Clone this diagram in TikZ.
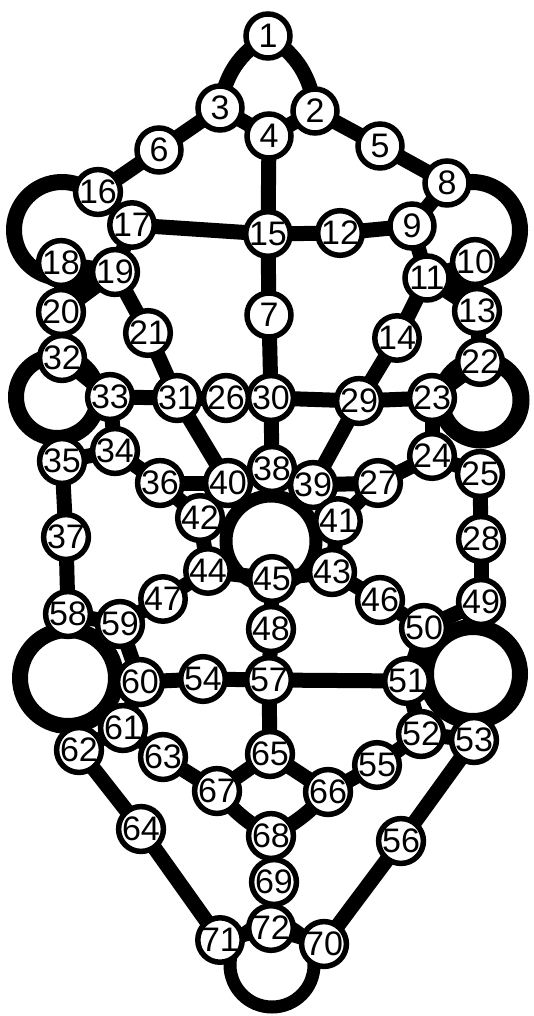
\documentclass[tikz,border=0pt]{standalone}
\usepackage{fontspec}
\setmainfont{Liberation Sans}
\usetikzlibrary{backgrounds}
\begin{document}
\begin{tikzpicture}[x=1pt,y=1pt,
  nd/.style={circle,draw=black,line width=5.5pt,fill=white,minimum size=44pt,inner sep=0pt,font=\fontsize{34}{34}\selectfont},
  edge/.style={line width=15pt,line cap=round},
  ring/.style={line width=16pt}]
\useasboundingbox (0,0) rectangle (534,-1016);
% nodes
\node[nd] (n1) at (268,-36) {1};
\node[nd] (n2) at (315,-111) {2};
\node[nd] (n3) at (220,-108) {3};
\node[nd] (n4) at (269,-136) {4};
\node[nd] (n5) at (380,-146) {5};
\node[nd] (n6) at (159,-150) {6};
\node[nd] (n7) at (269,-315) {7};
\node[nd] (n8) at (447,-183) {8};
\node[nd] (n9) at (412,-226) {9};
\node[nd] (n10) at (475,-262) {10};
\node[nd] (n11) at (427,-278) {11};
\node[nd] (n12) at (340,-233) {12};
\node[nd] (n13) at (477,-311) {13};
\node[nd] (n14) at (397,-338) {14};
\node[nd] (n15) at (268,-234) {15};
\node[nd] (n16) at (98,-192) {16};
\node[nd] (n17) at (132,-225) {17};
\node[nd] (n18) at (61,-263) {18};
\node[nd] (n19) at (115,-272) {19};
\node[nd] (n20) at (61,-312) {20};
\node[nd] (n21) at (148,-333) {21};
\node[nd] (n22) at (480,-362) {22};
\node[nd] (n23) at (432,-398) {23};
\node[nd] (n24) at (432,-456) {24};
\node[nd] (n25) at (480,-474) {25};
\node[nd] (n26) at (226,-398) {26};
\node[nd] (n27) at (378,-483) {27};
\node[nd] (n28) at (481,-539) {28};
\node[nd] (n29) at (359,-401) {29};
\node[nd] (n30) at (271,-398) {30};
\node[nd] (n31) at (177,-398) {31};
\node[nd] (n32) at (62,-358) {32};
\node[nd] (n33) at (110,-397) {33};
\node[nd] (n34) at (115,-451) {34};
\node[nd] (n35) at (62,-461) {35};
\node[nd] (n36) at (160,-483) {36};
\node[nd] (n37) at (66,-537) {37};
\node[nd] (n38) at (272,-469) {38};
\node[nd] (n39) at (313,-485) {39};
\node[nd] (n40) at (228,-483) {40};
\node[nd] (n41) at (338,-521) {41};
\node[nd] (n42) at (200,-518) {42};
\node[nd] (n43) at (332,-572) {43};
\node[nd] (n44) at (208,-571) {44};
\node[nd] (n45) at (272,-579) {45};
\node[nd] (n46) at (380,-600) {46};
\node[nd] (n47) at (163,-599) {47};
\node[nd] (n48) at (271,-629) {48};
\node[nd] (n49) at (481,-602) {49};
\node[nd] (n50) at (424,-628) {50};
\node[nd] (n51) at (407,-681) {51};
\node[nd] (n52) at (421,-734) {52};
\node[nd] (n53) at (474,-740) {53};
\node[nd] (n54) at (203,-679) {54};
\node[nd] (n55) at (377,-765) {55};
\node[nd] (n56) at (401,-841) {56};
\node[nd] (n57) at (269,-680) {57};
\node[nd] (n58) at (68,-614) {58};
\node[nd] (n59) at (120,-624) {59};
\node[nd] (n60) at (140,-682) {60};
\node[nd] (n61) at (123,-728) {61};
\node[nd] (n62) at (79,-750) {62};
\node[nd] (n63) at (163,-757) {63};
\node[nd] (n64) at (141,-829) {64};
\node[nd] (n65) at (270,-754) {65};
\node[nd] (n66) at (328,-792) {66};
\node[nd] (n67) at (217,-791) {67};
\node[nd] (n68) at (271,-836) {68};
\node[nd] (n69) at (274,-882) {69};
\node[nd] (n70) at (324,-944) {70};
\node[nd] (n71) at (220,-940) {71};
\node[nd] (n72) at (271,-928) {72};
% ring centres
\coordinate (cTL) at (62,-230);
\coordinate (cTR) at (472,-230);
\coordinate (cML) at (57,-397);
\coordinate (cMR) at (481,-400);
\coordinate (cC) at (271,-541);
\coordinate (cLL) at (68,-678);
\coordinate (cLR) at (473,-674);
\coordinate (cB) at (272,-965);
\begin{scope}[on background layer]
\fill[white] (0,0) rectangle (534,-1016);
% rings and arcs
\draw[ring] (cTL) ++(46:48) arc[start angle=46,end angle=268,radius=48];
\draw[ring] (cTR) ++(118:48) arc[start angle=118,end angle=-88,radius=48];
\draw[ring] (cML) circle[radius=41];
\draw[line width=17pt] (cMR) circle[radius=40];
\draw[line width=13pt] (cC) circle[radius=45];
\draw[ring] (cLL) circle[radius=48];
\draw[ring] (cLR) circle[radius=47];
\draw[line width=13pt] (cB) circle[radius=42];
% solid junctions
\fill[black] (n18.center) -- (n19.center) -- (n20.center) -- cycle;
\fill[black] (n10.center) -- (n11.center) -- (n13.center) -- cycle;
% connectors
\draw[edge] (n1.center) to[bend right=25] (n3.center);
\draw[edge] (n1.center) to[bend left=25] (n2.center);
\foreach \a/\b in {3/4,4/2,3/6,6/16,2/5,5/8,4/15,16/17,8/9,17/15,15/12,12/9,15/7,7/30,
  17/19,18/19,18/20,19/20,19/21,21/31,20/32,
  9/11,10/11,11/13,10/13,11/14,14/29,13/22,
  32/33,33/31,33/34,34/35,34/36,36/40,36/42,
  22/23,23/29,23/24,24/25,24/27,27/39,27/41,
  31/26,26/30,30/29,31/40,30/38,29/39,
  38/40,40/42,42/44,44/45,45/43,43/41,41/39,39/38,
  44/47,47/59,45/48,48/57,43/46,46/50,50/49,
  35/37,37/58,25/28,28/49,
  58/59,59/60,60/61,61/62,50/51,51/52,52/53,
  60/54,54/57,57/51,57/65,
  61/63,63/67,65/67,65/66,66/55,55/52,
  68/69,69/72,72/71,72/70,
  62/64,64/71,53/56,56/70}
  {\draw[edge] (n\a.center) -- (n\b.center);}
\draw[edge] (n67.center) to[bend right=10] (n68.center);
\draw[edge] (n66.center) to[bend left=10] (n68.center);
\end{scope}
\end{tikzpicture}
\end{document}
